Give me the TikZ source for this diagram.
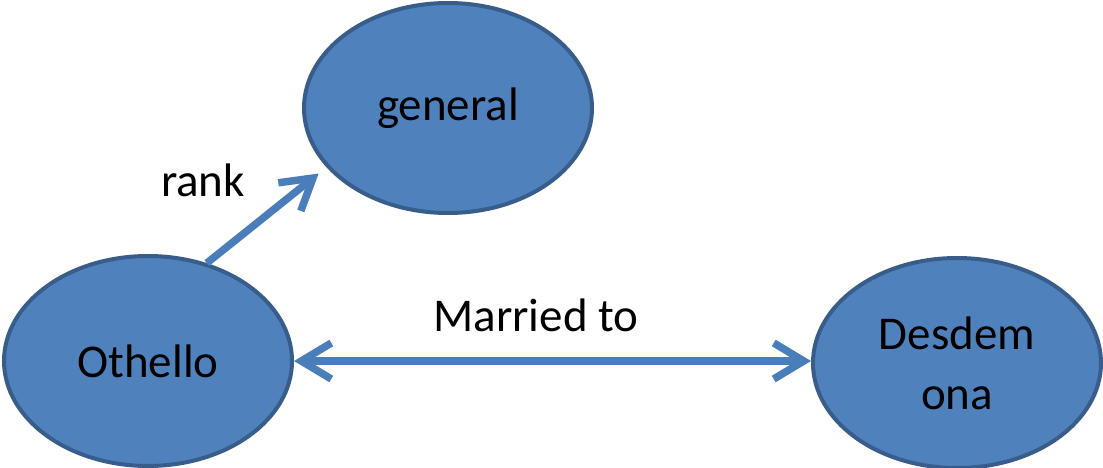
\documentclass[tikz,border=0pt]{standalone}
\usepackage{fontspec}
\setmainfont{Carlito}
\usetikzlibrary{shapes.geometric,arrows.meta}
\definecolor{nodefill}{HTML}{4F81BD}
\definecolor{nodeline}{HTML}{385D8A}
\definecolor{arrowblue}{HTML}{4A7EBB}
\tikzset{
  concept/.style={ellipse,draw=nodeline,fill=nodefill,line width=4pt,
    minimum width=288pt,minimum height=210pt,inner sep=0pt,
    font=\fontsize{47}{60}\selectfont,align=center},
  relation/.style={draw=arrowblue,line width=7.5pt},
  barb/.tip={Straight Barb[length=30pt,width=36pt,line cap=butt,line join=miter]},
  lbl/.style={font=\fontsize{47}{60}\selectfont,inner sep=0pt}
}
\begin{document}
\begin{tikzpicture}[x=1pt,y=-1pt]
\useasboundingbox (0,0) rectangle (1103,468);
\node[concept] (general) at (448,108) {general};
\node[concept] (othello) at (148,361) {Othello};
\node[concept] (desdemona) at (957,363) {Desdem\\ona};
% relations
\draw[relation,-barb,shorten >=10pt] (othello.59) -- (general.206);
\draw[relation,barb-barb] (othello) -- (desdemona.west |- othello);
\node[lbl] (rank) at (203,180) {rank};
\node[lbl] (married) at (536,315) {Married to};
\end{tikzpicture}
\end{document}
